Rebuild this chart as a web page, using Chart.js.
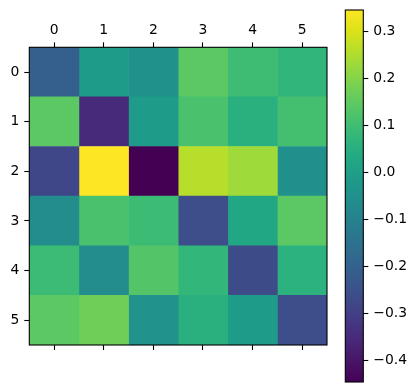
<!DOCTYPE html>
<html>
<head>
<meta charset="utf-8">
<script src="https://cdn.jsdelivr.net/npm/chart.js@4"></script>
<style>
  body { margin: 0; background: #fff; }
  #wrap { position: relative; width: 416px; height: 392px; }
  #matBox { position: absolute; left: 0; top: 0; width: 340px; height: 392px; }
  #barBox { position: absolute; left: 330px; top: 0; width: 86px; height: 392px; }
</style>
</head>
<body>
<div id="wrap">
  <div id="matBox"><canvas id="matChart"></canvas></div>
  <div id="barBox"><canvas id="barChart"></canvas></div>
</div>
<script>
// matrix values, one array per row
const row0 = [-0.208, -0.014, -0.050, 0.144, 0.097, 0.073];
const row1 = [0.144, -0.350, -0.014, 0.117, 0.053, 0.109];
const row2 = [-0.279, 0.346, -0.445, 0.259, 0.231, -0.053];
const row3 = [-0.065, 0.117, 0.093, -0.259, 0.026, 0.144];
const row4 = [0.093, -0.065, 0.132, 0.077, -0.263, 0.061];
const row5 = [0.144, 0.172, -0.046, 0.053, -0.014, -0.259];
const values = [row0, row1, row2, row3, row4, row5];

const rowLabels = ['0', '1', '2', '3', '4', '5'];
const colTicks = [0, 1, 2, 3, 4, 5];
const colorbarTicks = [-0.4, -0.3, -0.2, -0.1, 0.0, 0.1, 0.2, 0.3];

const vmin = Math.min(...values.flat());
const vmax = Math.max(...values.flat());

// viridis stops every 0.05
const viridisStops = ['#440154', '#471365', '#482475', '#463480', '#414487', '#3b528b', '#355f8d',
  '#2f6c8e', '#2a788e', '#25848e', '#21918c', '#1e9c89', '#22a884', '#2fb47c', '#44bf70',
  '#5ec962', '#7ad151', '#9bd93c', '#bddf26', '#dfe318', '#fde725'];

function hexRgb(h) {
  return [parseInt(h.slice(1, 3), 16), parseInt(h.slice(3, 5), 16), parseInt(h.slice(5, 7), 16)];
}

function viridis(t) {
  t = Math.max(0, Math.min(1, t));
  const pos = t * (viridisStops.length - 1);
  const i = Math.min(Math.floor(pos), viridisStops.length - 2);
  const f = pos - i;
  const a = hexRgb(viridisStops[i]), b = hexRgb(viridisStops[i + 1]);
  const c = a.map((v, k) => Math.round(v + (b[k] - v) * f));
  return 'rgb(' + c.join(',') + ')';
}

const norm = v => (v - vmin) / (vmax - vmin);

Chart.defaults.color = '#000';
Chart.defaults.font.family = 'DejaVu Sans';
Chart.defaults.font.size = 13.9;

const framePlugin = {
  id: 'frame',
  afterDatasetsDraw(chart) {
    const { ctx, chartArea: a } = chart;
    ctx.save();
    ctx.strokeStyle = '#000';
    ctx.lineWidth = 1.1;
    ctx.strokeRect(a.left, a.top, a.right - a.left, a.bottom - a.top);
    ctx.restore();
  }
};

const tickGrid = {
  display: true,
  drawOnChartArea: false,
  drawTicks: true,
  tickLength: 5,
  tickWidth: 1.1,
  color: '#000',
  offset: false
};

// no extra room for overhanging end labels
function noPad(s) {
  s.paddingTop = 0;
  s.paddingBottom = 0;
  s.paddingLeft = 0;
  s.paddingRight = 0;
}

// matrix as floating horizontal bars, one dataset per column
new Chart(document.getElementById('matChart'), {
  type: 'bar',
  data: {
    labels: rowLabels,
    datasets: colTicks.map(c => ({
      data: rowLabels.map(() => [c - 0.5, c + 0.5]),
      backgroundColor: values.map(r => viridis(norm(r[c]))),
      borderWidth: 0,
      grouped: false,
      barPercentage: 1,
      categoryPercentage: 1
    }))
  },
  options: {
    indexAxis: 'y',
    responsive: true,
    maintainAspectRatio: false,
    animation: false,
    layout: { padding: { left: 0, right: 13, top: 0, bottom: 0 } },
    plugins: { legend: { display: false }, tooltip: { enabled: false } },
    scales: {
      y: {
        type: 'category',
        position: 'left',
        grid: tickGrid,
        border: { display: false },
        ticks: { padding: 5 },
        afterFit(s) { s.width = 29.3; noPad(s); }
      },
      x: {
        type: 'linear',
        position: 'top',
        min: -0.5,
        max: 5.5,
        grid: tickGrid,
        border: { display: false },
        ticks: { padding: 4 },
        afterBuildTicks(s) { s.ticks = colTicks.map(v => ({ value: v })); },
        afterFit(s) { s.height = 47.3; noPad(s); }
      },
      x2: {
        type: 'linear',
        position: 'bottom',
        min: -0.5,
        max: 5.5,
        grid: tickGrid,
        border: { display: false },
        ticks: { display: false },
        afterBuildTicks(s) { s.ticks = colTicks.map(v => ({ value: v })); },
        afterFit(s) { s.height = 47; noPad(s); }
      }
    }
  },
  plugins: [framePlugin]
});

// colorbar
new Chart(document.getElementById('barChart'), {
  type: 'bar',
  data: {
    labels: ['cb'],
    datasets: [{
      data: [[vmin, vmax]],
      borderWidth: 0,
      barPercentage: 1,
      categoryPercentage: 1,
      backgroundColor(ctx) {
        const a = ctx.chart.chartArea;
        if (!a) return null;
        const g = ctx.chart.ctx.createLinearGradient(0, a.bottom, 0, a.top);
        viridisStops.forEach((c, i) => g.addColorStop(i / (viridisStops.length - 1), c));
        return g;
      }
    }]
  },
  options: {
    responsive: true,
    maintainAspectRatio: false,
    animation: false,
    layout: { padding: { left: 15.3, right: 0, top: 10, bottom: 10 } },
    plugins: { legend: { display: false }, tooltip: { enabled: false } },
    scales: {
      x: { display: false },
      y: {
        type: 'linear',
        position: 'right',
        min: vmin,
        max: vmax,
        grid: tickGrid,
        border: { display: false },
        ticks: {
          padding: 5,
          callback: v => v.toFixed(1).replace('-', '\u2212')
        },
        afterBuildTicks(s) { s.ticks = colorbarTicks.map(v => ({ value: v })); },
        afterFit(s) { s.width = 52.7; noPad(s); }
      }
    }
  },
  plugins: [framePlugin]
});
</script>
</body>
</html>
